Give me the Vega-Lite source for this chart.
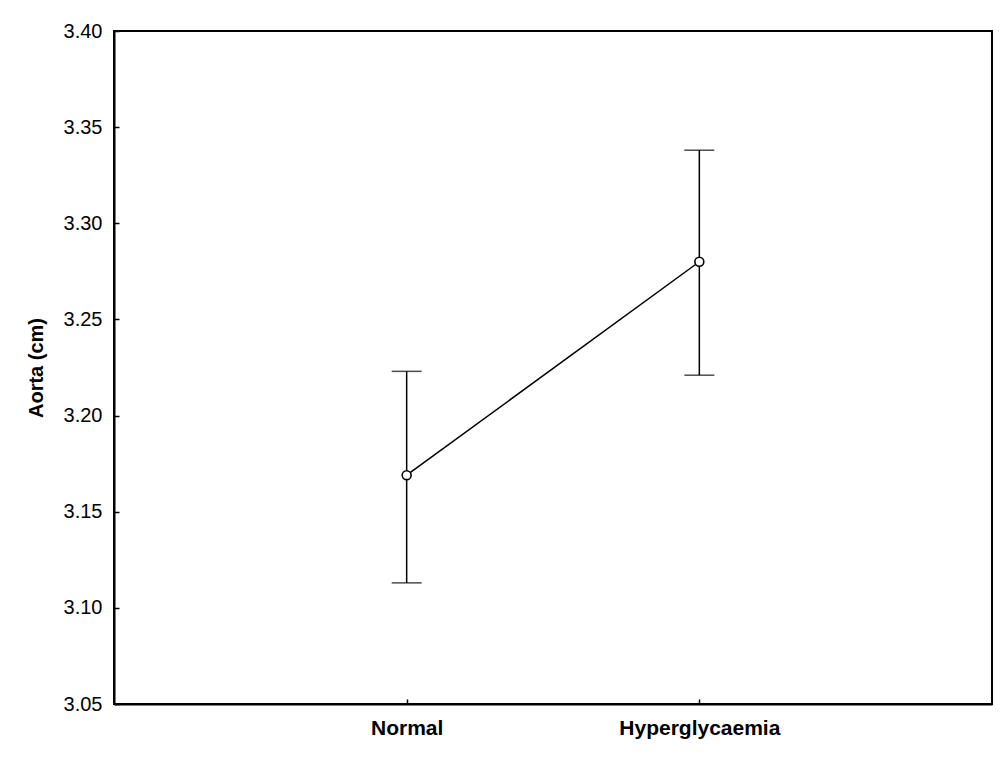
{
  "$schema": "https://vega.github.io/schema/vega-lite/v6.json",
  "width": 878,
  "height": 673,
  "autosize": {"type": "none"},
  "padding": {"left": 114, "top": 31, "right": 11, "bottom": 55},
  "background": "white",
  "config": {
    "font": "Liberation Sans",
    "view": {"stroke": "black", "strokeWidth": 2},
    "axis": {"grid": false, "domainColor": "black", "domainWidth": 2, "tickColor": "black", "tickWidth": 1.5, "labelColor": "black", "titleColor": "black"}
  },
  "data": {
    "values": [
      {"group": "Normal", "mean": 3.169, "lo": 3.113, "hi": 3.223},
      {"group": "Hyperglycaemia", "mean": 3.280, "lo": 3.221, "hi": 3.338}
    ]
  },
  "resolve": {"axis": {"x": "independent", "y": "independent"}},
  "layer": [
    {
      "mark": {"type": "rule", "color": "black", "strokeWidth": 1.5},
      "encoding": {
        "x": {
          "field": "group", "type": "nominal", "sort": ["Normal", "Hyperglycaemia"],
          "scale": {"type": "point", "padding": 1},
          "axis": {"title": null, "orient": "bottom", "labelAngle": 0, "labelFontWeight": "bold", "labelFontSize": 21, "ticks": false, "labelPadding": 13}
        },
        "y": {"field": "lo", "type": "quantitative", "scale": {"domain": [3.05, 3.40], "nice": false, "zero": false},
          "axis": {"title": "Aorta (cm)", "orient": "left", "values": [3.05, 3.10, 3.15, 3.20, 3.25, 3.30, 3.35, 3.40], "format": ".2f", "labelFontSize": 20, "titleFontSize": 20, "titleFontWeight": "bold", "ticks": false, "labelPadding": 12, "titlePadding": 17}},
        "y2": {"field": "hi"}
      }
    },
    {
      "mark": {"type": "tick", "color": "black", "size": 30, "thickness": 1.5, "orient": "horizontal"},
      "encoding": {
        "x": {
          "field": "group", "type": "nominal", "sort": ["Normal", "Hyperglycaemia"],
          "scale": {"type": "point", "padding": 1},
          "axis": {"title": null, "orient": "top", "offset": -673, "labels": false, "domain": false, "ticks": true, "tickSize": 5}
        },
        "y": {"field": "lo", "type": "quantitative",
          "axis": {"title": null, "orient": "right", "offset": -878, "values": [3.05, 3.10, 3.15, 3.20, 3.25, 3.30, 3.35, 3.40], "labels": false, "domain": false, "ticks": true, "tickSize": 5}}
      }
    },
    {
      "mark": {"type": "tick", "color": "black", "size": 30, "thickness": 1.5, "orient": "horizontal"},
      "encoding": {
        "x": {"field": "group", "type": "nominal", "sort": ["Normal", "Hyperglycaemia"], "axis": null},
        "y": {"field": "hi", "type": "quantitative", "axis": null}
      }
    },
    {
      "mark": {"type": "line", "color": "black", "strokeWidth": 1.5},
      "encoding": {
        "x": {"field": "group", "type": "nominal", "sort": ["Normal", "Hyperglycaemia"], "axis": null},
        "y": {"field": "mean", "type": "quantitative", "axis": null}
      }
    },
    {
      "mark": {"type": "point", "shape": "circle", "filled": true, "fill": "white", "stroke": "black", "strokeWidth": 1.6, "size": 80, "opacity": 1},
      "encoding": {
        "x": {"field": "group", "type": "nominal", "sort": ["Normal", "Hyperglycaemia"], "axis": null},
        "y": {"field": "mean", "type": "quantitative", "axis": null}
      }
    }
  ]
}
